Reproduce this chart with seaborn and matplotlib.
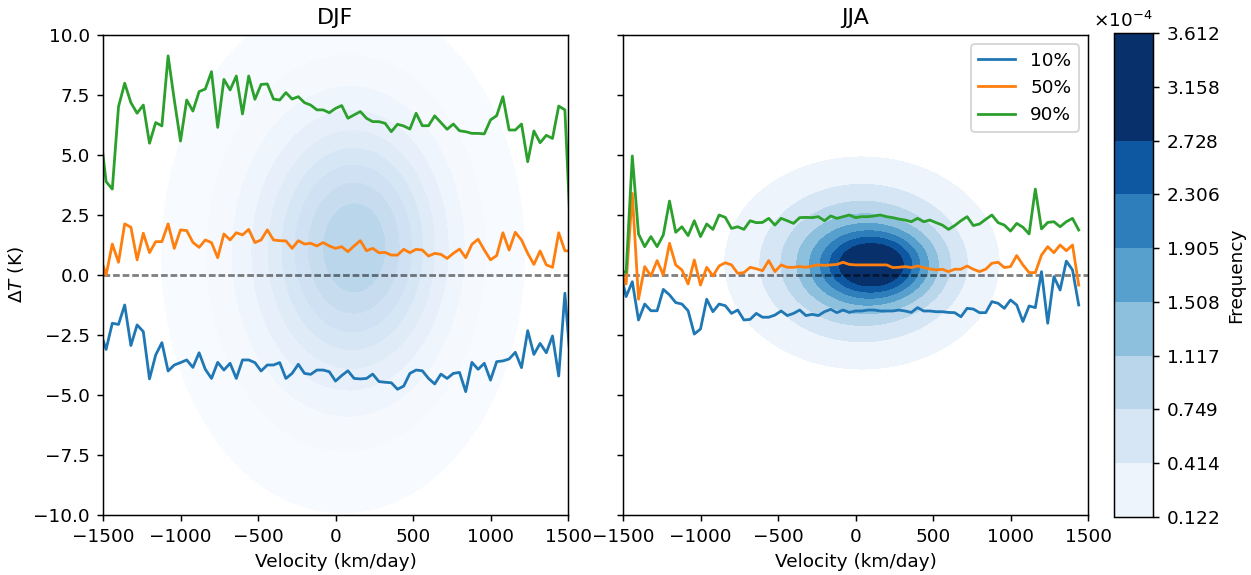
import matplotlib
matplotlib.use("Agg")
import matplotlib.pyplot as plt
from matplotlib.colors import Normalize
from matplotlib.ticker import ScalarFormatter
import numpy as np
import pandas as pd
import seaborn as sns

# velocity bins (km/day), one value every 40 km/day
vel_djf = np.arange(-1520, 1521, 40)
vel_jja = np.arange(-1520, 1441, 40)

# quantiles of Delta T (K) per velocity bin
djf_q10 = [-2.32, -3.10, -2.01, -2.06, -1.25, -2.94, -2.08, -2.36, -4.33, -3.33, -2.82, -4.0, -3.75,
           -3.65, -3.54, -3.85, -3.24, -3.93, -4.31, -3.64, -3.96, -3.68, -4.31, -3.54, -3.54, -3.65,
           -4.0, -3.75, -3.75, -3.65, -4.31, -4.10, -3.72, -4.10, -4.14, -3.96, -3.96, -4.03, -4.42,
           -4.19, -3.99, -4.31, -4.33, -4.31, -4.13, -4.44, -4.47, -4.49, -4.76, -4.63, -4.10, -3.96,
           -3.99, -4.31, -4.54, -4.13, -4.31, -4.10, -4.06, -4.86, -3.64, -3.93, -3.68, -4.38, -3.61,
           -3.58, -3.50, -3.22, -3.86, -2.32, -3.31, -2.85, -3.24, -2.54, -4.21, -0.76, -4.0]
djf_q50 = [0.8, 0.0, 1.29, 0.53, 2.13, 1.99, 0.63, 1.74, 0.93, 1.39, 1.39, 2.13, 1.11, 1.88, 1.85,
           1.36, 1.15, 1.46, 1.35, 0.72, 1.71, 1.46, 1.76, 1.67, 1.90, 1.35, 1.46, 1.88, 1.46, 1.43,
           1.42, 1.11, 1.43, 1.29, 1.32, 1.21, 1.35, 1.21, 1.11, 1.18, 0.97, 1.21, 1.43, 1.01, 1.11,
           0.93, 0.94, 0.83, 0.83, 1.07, 0.93, 1.07, 1.04, 0.79, 0.90, 0.86, 0.69, 0.90, 1.08, 0.72,
           1.28, 1.49, 1.04, 0.63, 0.81, 1.76, 1.04, 1.78, 1.46, 0.90, 0.44, 1.0, 0.42, 0.32, 1.76,
           1.01, 1.0]
djf_q90 = [6.1, 3.89, 3.58, 7.01, 7.99, 7.18, 6.74, 7.08, 5.49, 6.35, 6.21, 9.13, 7.29, 5.58, 7.29,
           6.83, 7.64, 7.75, 8.47, 6.15, 8.15, 7.71, 8.29, 6.71, 8.29, 7.32, 7.94, 7.96, 7.33, 7.29,
           7.60, 7.33, 7.43, 7.18, 7.08, 6.88, 6.88, 6.76, 6.94, 7.06, 6.53, 6.67, 6.81, 6.53, 6.39,
           6.39, 6.32, 5.97, 6.28, 6.21, 6.08, 6.74, 6.22, 6.22, 6.63, 6.35, 6.07, 6.29, 6.01, 5.97,
           5.90, 5.90, 5.88, 6.46, 6.64, 7.43, 6.04, 6.04, 6.29, 4.72, 6.00, 5.51, 5.82, 5.69, 7.04,
           6.88, 1.2]

jja_q10 = [0.2, -0.90, -0.28, -1.875, -1.21, -1.49, -1.49, -0.60, -0.83, -1.15, -1.21, -1.49, -2.46,
           -2.25, -1.01, -1.53, -1.21, -1.28, -1.60, -1.46, -1.875, -1.85, -1.60, -1.76, -1.76, -1.67,
           -1.5, -1.69, -1.60, -1.46, -1.69, -1.64, -1.69, -1.53, -1.43, -1.57, -1.46, -1.56, -1.50,
           -1.50, -1.46, -1.46, -1.50, -1.50, -1.50, -1.46, -1.50, -1.56, -1.36, -1.50, -1.50, -1.53,
           -1.53, -1.56, -1.57, -1.74, -1.39, -1.42, -1.57, -1.57, -1.11, -1.18, -1.39, -1.04, -1.25,
           -1.94, -1.29, -1.36, 0.14, -2.01, -0.07, -0.625, 0.58, 0.21, -1.25]
jja_q50 = [0.2, -0.375, 3.40, -1.01, 0.35, -0.04, 0.60, 0.0, 1.32, 0.42, 0.21, -0.375, 0.625, -0.42,
           0.32, -0.04, 0.375, 0.51, 0.42, 0.07, 0.10, 0.32, 0.26, 0.18, 0.60, 0.14, 0.42, 0.32, 0.32,
           0.35, 0.32, 0.375, 0.42, 0.40, 0.42, 0.44, 0.53, 0.44, 0.42, 0.42, 0.42, 0.42, 0.42, 0.42,
           0.31, 0.32, 0.35, 0.31, 0.375, 0.31, 0.25, 0.21, 0.24, 0.14, 0.24, 0.24, 0.375, 0.24, 0.14,
           0.24, 0.49, 0.53, 0.31, 0.35, 0.81, 0.42, 0.10, 0.10, 0.83, 1.18, 0.93, 1.25, 1.01, 1.25,
           -0.42]
jja_q90 = [0.2, 0.1, 4.96, 1.71, 1.18, 1.60, 1.18, 1.67, 3.08, 1.78, 2.01, 1.64, 2.26, 1.60, 2.125,
           1.90, 2.50, 2.40, 1.94, 2.01, 1.90, 2.26, 2.18, 2.19, 2.36, 2.08, 2.36, 2.26, 2.15, 2.39,
           2.40, 2.39, 2.43, 2.26, 2.46, 2.36, 2.43, 2.50, 2.39, 2.43, 2.43, 2.46, 2.50, 2.43, 2.39,
           2.33, 2.29, 2.22, 2.36, 2.22, 2.29, 2.18, 2.08, 1.90, 2.06, 2.26, 2.43, 2.06, 2.125, 2.32,
           2.50, 2.18, 2.08, 1.83, 2.15, 1.99, 1.71, 3.58, 1.92, 2.19, 2.22, 2.01, 2.22, 2.36, 1.875]

quantile_names = ['10%', '50%', '90%']
quantile_colors = ['tab:blue', 'tab:orange', 'tab:green']

# contour levels of the joint frequency (per km/day per K)
jja_levels = np.array([0.122, 0.414, 0.749, 1.117, 1.508, 1.905, 2.306, 2.728, 3.158, 3.612]) * 1e-4
djf_levels = np.array([0.034, 0.115, 0.207, 0.309, 0.417, 0.527, 0.638, 0.755, 0.874, 1.0]) * 1e-4

# shape of the frequency blob: [centre v, centre dT, spread v, spread dT]
djf_peak = 0.99e-4
djf_core = [160, 1.3, 330, 3.1]
djf_broad = [40, 0.8, 500, 4.6]
jja_peak = 3.60e-4
jja_core = [130, 0.4, 220, 0.9]
jja_broad = [40, 0.5, 380, 1.9]
core_weight = 0.5

vv, tt = np.meshgrid(np.linspace(-1600, 1600, 401), np.linspace(-11, 11, 331))


def blob(peak, core, broad):
    def g(p):
        return np.exp(-0.5 * (((vv - p[0]) / p[2]) ** 2 + ((tt - p[1]) / p[3]) ** 2))
    shape = core_weight * g(core) + (1 - core_weight) * g(broad)
    return peak * shape / shape.max()


def quantile_frame(vel, q10, q50, q90):
    parts = []
    for name, vals in zip(quantile_names, [q10, q50, q90]):
        parts.append(pd.DataFrame({'velocity': vel, 'dT': vals, 'quantile': name}))
    return pd.concat(parts, ignore_index=True)


dpi = 400 / 3
fig = plt.figure(figsize=(9.3826, 4.3126), dpi=dpi)
ax1 = fig.add_axes([103 / 1251, 60 / 575, 465 / 1251, 480 / 575])
ax2 = fig.add_axes([623 / 1251, 60 / 575, 465 / 1251, 480 / 575], sharey=ax1)
cax = fig.add_axes([1114 / 1251, 58 / 575, 39 / 1251, 484 / 575])

norm = Normalize(vmin=jja_levels[0], vmax=2.95e-4)

panels = [
    (ax1, 'DJF', djf_levels, blob(djf_peak, djf_core, djf_broad),
     quantile_frame(vel_djf, djf_q10, djf_q50, djf_q90), False),
    (ax2, 'JJA', jja_levels, blob(jja_peak, jja_core, jja_broad),
     quantile_frame(vel_jja, jja_q10, jja_q50, jja_q90), True),
]

for ax, title, levels, field, df, show_legend in panels:
    cs = ax.contourf(vv, tt, field, levels=levels, cmap='Blues', norm=norm)
    ax.axhline(0, color='k', alpha=0.5, lw=1.5, ls=(0, (2.4, 1.05)))
    sns.lineplot(data=df, x='velocity', y='dT', hue='quantile', hue_order=quantile_names,
                 palette=quantile_colors, errorbar=None, sort=False, lw=1.5,
                 legend=show_legend, ax=ax)
    ax.set_xlim(-1500, 1500)
    ax.set_ylim(-10, 10)
    ax.set_title(title)
    ax.set_xlabel('Velocity (km/day)')
    if show_legend:
        sns.move_legend(ax, 'upper right', title=None)
    if title == 'JJA':
        cs_jja = cs

ax1.set_ylabel(r'$\Delta T$ (K)')
ax2.set_ylabel('')
ax2.tick_params(labelleft=False)

cbar = fig.colorbar(cs_jja, cax=cax, ticks=jja_levels)
fmt = ScalarFormatter(useMathText=True)
fmt.set_powerlimits((0, 0))
cbar.formatter = fmt
cbar.update_ticks()
cbar.set_label('Frequency')

fig.savefig('out.png', dpi=dpi)
